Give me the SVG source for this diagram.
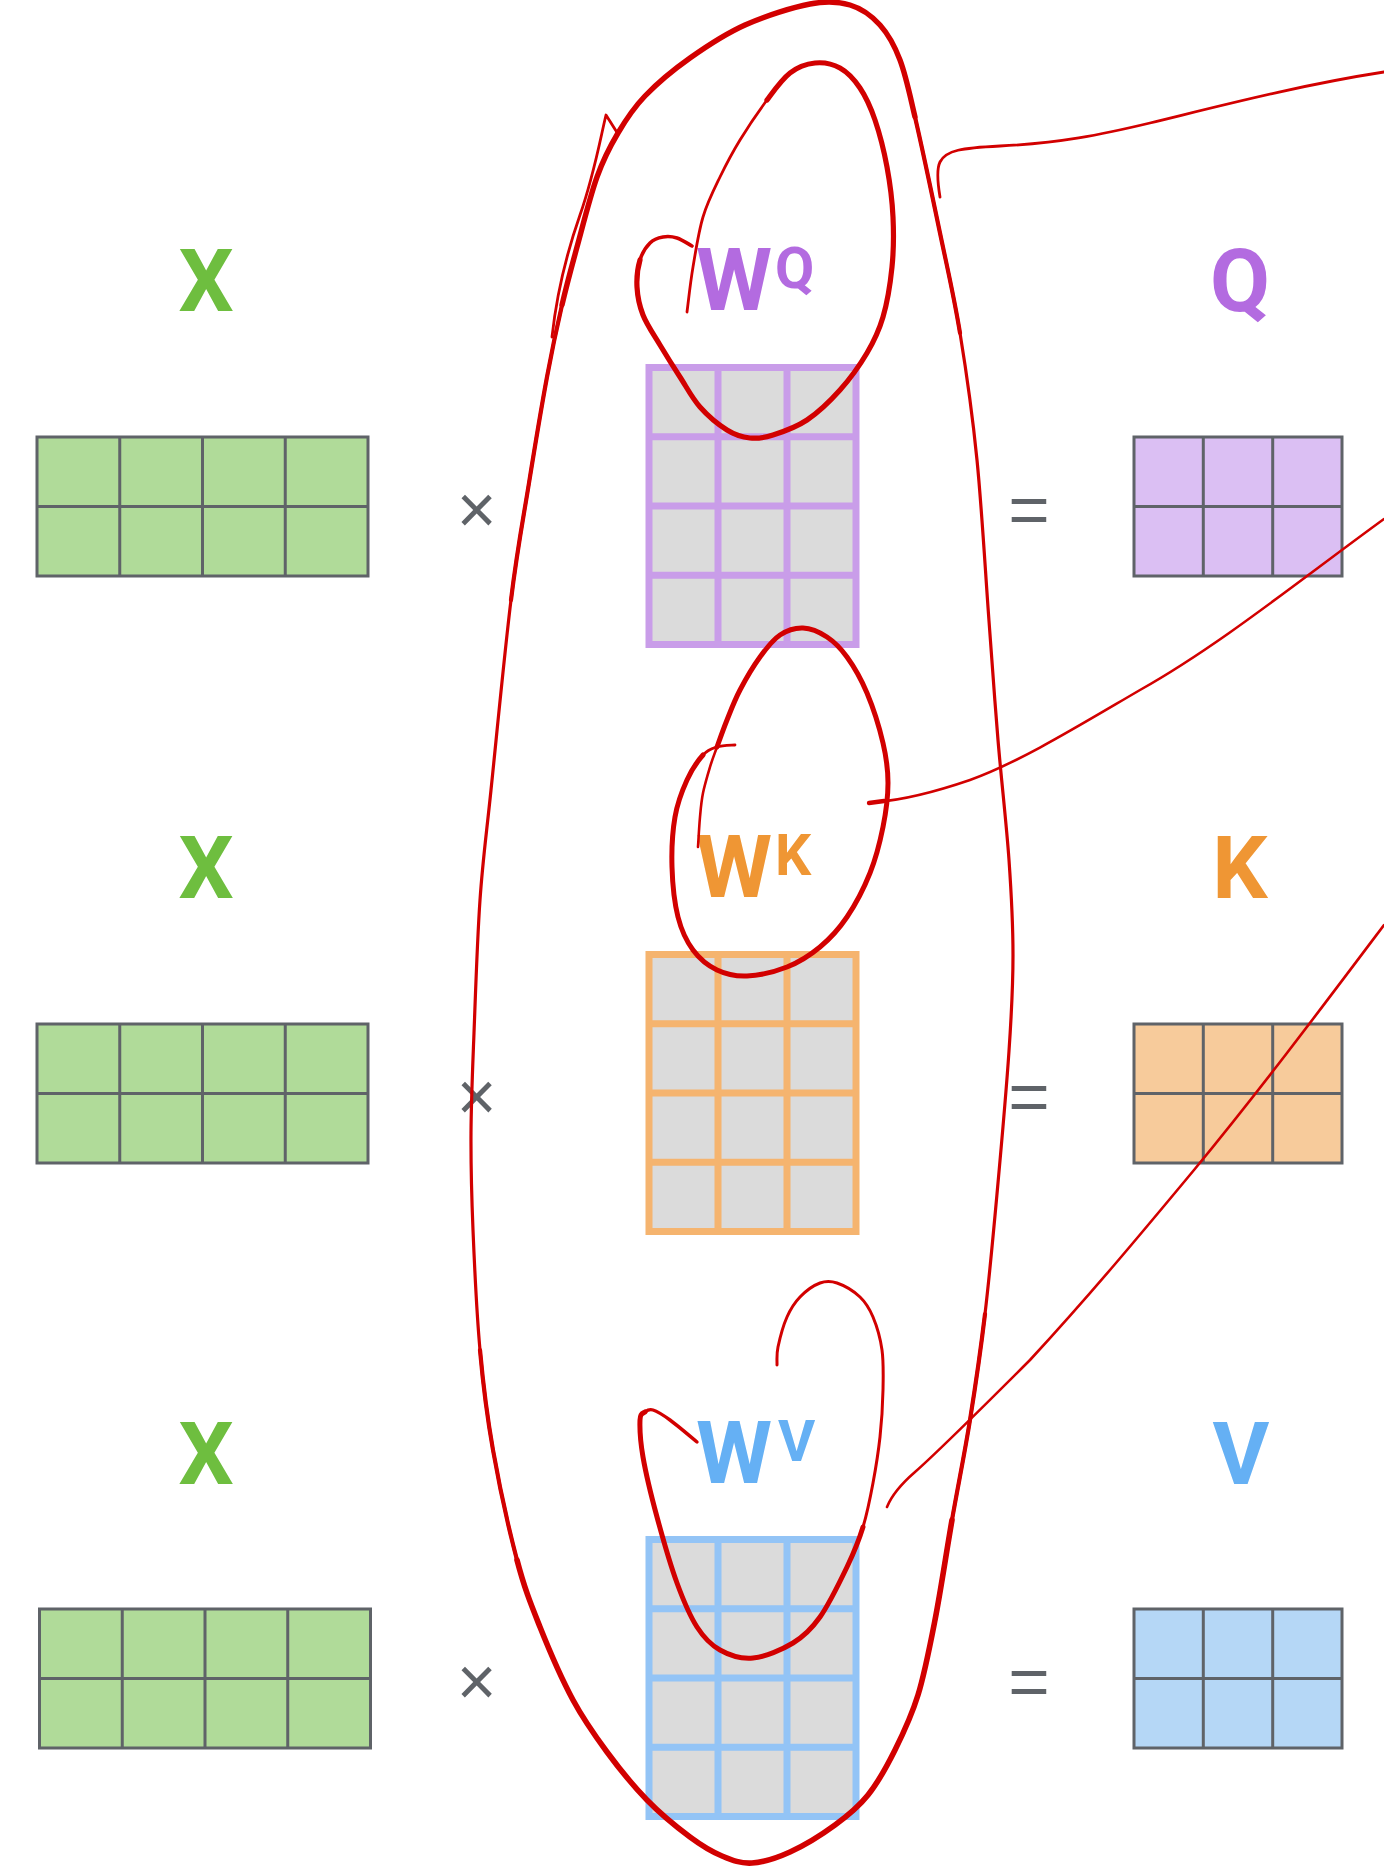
<svg xmlns="http://www.w3.org/2000/svg" width="1384" height="1872" viewBox="0 0 1384 1872">
<style>
.lbl{font-family:Roboto,'Liberation Sans',sans-serif;font-weight:700;font-size:87px;text-anchor:middle}
.wl{font-family:Roboto,'Liberation Sans',sans-serif;font-weight:700;font-size:87px}
.sup{font-size:57px}
.op{font-family:'Liberation Sans',Arial,sans-serif;fill:#5f6368;text-anchor:middle}
.mul{font-size:68px}
.eq{font-size:71px}
.g{fill:#6ebe3f}.p{fill:#b36be0}.o{fill:#ef9634}.b{fill:#65b0f4}
.grid{fill:none;stroke:#5f6368;stroke-width:3}
.xm{fill:#b0db99}.qm{fill:#dbbff3}.km{fill:#f7cb9b}.vm{fill:#b5d7f6}
.w{fill:#dbdbdb;stroke-width:7}
.wl2{fill:none;stroke-width:7}
.wp{stroke:#c99de9}.wo{stroke:#f5b46f}.wb{stroke:#93c4f6}
.red{fill:none;stroke:#d20000;stroke-linecap:round;stroke-linejoin:round}
</style>
<rect width="1384" height="1872" fill="#ffffff"/>

<!-- Row 1: Q -->
<g id="row-q">
  <g id="x1">
    <text class="lbl g" x="206" y="311">X</text>
    <rect class="xm" x="37" y="437" width="331" height="139"/>
    <rect class="grid" x="37" y="437" width="331" height="139"/>
    <path class="grid" d="M119.75,437V576M202.5,437V576M285.25,437V576M37,506.5H368"/>
  </g>
  <g id="mul1"><text class="op mul" x="476.5" y="533">×</text></g>
  <g id="wq">
    <text class="wl p" x="696" y="310">W<tspan class="sup" x="775" y="288">Q</tspan></text>
    <rect class="w wp" x="649" y="367.5" width="207" height="277"/>
    <path class="wl2 wp" d="M718,367.5V644.5M787,367.5V644.5M649,436.75H856M649,506H856M649,575.25H856"/>
  </g>
  <g id="eq1"><text class="op eq" x="1029" y="534">=</text></g>
  <g id="q">
    <text class="lbl p" x="1240" y="311">Q</text>
    <rect class="qm" x="1134" y="437" width="208" height="139"/>
    <rect class="grid" x="1134" y="437" width="208" height="139"/>
    <path class="grid" d="M1203.3,437V576M1272.7,437V576M1134,506.5H1342"/>
  </g>
</g>

<!-- Row 2: K -->
<g id="row-k" transform="translate(0,587)">
  <g id="x2">
    <text class="lbl g" x="206" y="311">X</text>
    <rect class="xm" x="37" y="437" width="331" height="139"/>
    <rect class="grid" x="37" y="437" width="331" height="139"/>
    <path class="grid" d="M119.75,437V576M202.5,437V576M285.25,437V576M37,506.5H368"/>
  </g>
  <g id="mul2"><text class="op mul" x="476.5" y="533">×</text></g>
  <g id="wk">
    <text class="wl o" x="696" y="310">W<tspan class="sup" x="775" y="288">K</tspan></text>
    <rect class="w wo" x="649" y="367.5" width="207" height="277"/>
    <path class="wl2 wo" d="M718,367.5V644.5M787,367.5V644.5M649,436.75H856M649,506H856M649,575.25H856"/>
  </g>
  <g id="eq2"><text class="op eq" x="1029" y="534">=</text></g>
  <g id="k">
    <text class="lbl o" x="1240" y="311">K</text>
    <rect class="km" x="1134" y="437" width="208" height="139"/>
    <rect class="grid" x="1134" y="437" width="208" height="139"/>
    <path class="grid" d="M1203.3,437V576M1272.7,437V576M1134,506.5H1342"/>
  </g>
</g>

<!-- Row 3: V -->
<g id="row-v" transform="translate(0,1172)">
  <g id="x3">
    <text class="lbl g" x="206" y="312">X</text>
    <rect class="xm" x="39.5" y="437" width="331" height="139"/>
    <rect class="grid" x="39.5" y="437" width="331" height="139"/>
    <path class="grid" d="M122.25,437V576M205,437V576M287.75,437V576M39.5,506.5H370.5"/>
  </g>
  <g id="mul3"><text class="op mul" x="476.5" y="533">×</text></g>
  <g id="wv">
    <text class="wl b" x="696" y="311">W<tspan class="sup" x="778" y="289">V</tspan></text>
    <rect class="w wb" x="649" y="367.5" width="207" height="277"/>
    <path class="wl2 wb" d="M718,367.5V644.5M787,367.5V644.5M649,436.75H856M649,506H856M649,575.25H856"/>
  </g>
  <g id="eq3"><text class="op eq" x="1029" y="534">=</text></g>
  <g id="v">
    <text class="lbl b" x="1241" y="312">V</text>
    <rect class="vm" x="1134" y="437" width="208" height="139"/>
    <rect class="grid" x="1134" y="437" width="208" height="139"/>
    <path class="grid" d="M1203.3,437V576M1272.7,437V576M1134,506.5H1342"/>
  </g>
</g>

<!-- Red hand-drawn annotations -->
<g id="connectors">
  <!-- big loop -->
  <path class="red" stroke-width="3.2" d="M618,133 C626,119.5 633,108.5 645,96 S673.3,69.8 690,58 S725,34 745,25 S792.5,7.3 810,4 S838.3,1.5 850,5 S871.7,15.8 880,25 S894.2,44.7 900,60 S908.3,88.2 915,117 S932.5,197 940,233 S953.8,295.2 960,333 S972.2,412 977,460 S985.5,574.3 989,621 S994.7,700.2 998,740 S1006.5,824.2 1009,860 S1013,923.2 1013,955 S1011.7,1011.2 1009,1051 S1001,1150.2 997,1194 S989.5,1276.3 985,1314 S975.5,1385.7 970,1420 S957.8,1486.7 952,1520 S940.7,1590.8 935,1620 S924.7,1673.3 918,1695 S903.3,1733.3 895,1750 S878,1782.5 868,1795 S848,1815.5 835,1825 S803.8,1845.7 790,1852 S763.3,1862.3 752,1863 S732.3,1860.3 722,1856 S702.5,1846.3 690,1837 S660.8,1814.2 647,1800 S619.3,1768.7 607,1752 S584.2,1720.8 573,1700 S549.3,1650.3 540,1627 S524.8,1589.5 517,1560 S499.2,1485 493,1450 S483.3,1386.7 480,1350 S474.5,1266.2 473,1230 S470.8,1165.8 471,1133 S472.5,1071.8 474,1033 S477.2,940.5 480,900 S485.8,840 491,790 S504.7,651.2 511,600 S523,520.2 529,483 S541.5,406.7 547,377 S557,326.7 562,305 S571.2,268.3 577,247 S590.2,196 597,177 S610,146.5 618,133"/>
  <path class="red" stroke-width="4.2" d="M915,117 C921.7,145.8 932.5,197 940,233 S953.8,295.2 960,333"/>
  <path class="red" stroke-width="4.2" d="M511,600 C517.3,548.8 523,520.2 529,483 S541.5,406.7 547,377 S557,326.7 562,305"/>
  <path class="red" stroke-width="4.2" d="M985,1314 C980.5,1351.7 975.5,1385.7 970,1420 S957.8,1486.7 952,1520 S940.7,1590.8 935,1620"/>
  <path class="red" stroke-width="4.2" d="M517,1560 C509.2,1530.5 499.2,1485 493,1450 S483.3,1386.7 480,1350"/>
  <path class="red" stroke-width="5.4" d="M562,305 C567,283.3 571.2,268.3 577,247 S590.2,196 597,177 S610,146.5 618,133 S633,108.5 645,96 S673.3,69.8 690,58 S725,34 745,25 S792.5,7.3 810,4 S838.3,1.5 850,5 S871.7,15.8 880,25 S894.2,44.7 900,60 S908.3,88.2 915,117"/>
  <path class="red" stroke-width="5.6" d="M952,1520 C946.2,1553.3 940.7,1590.8 935,1620 S924.7,1673.3 918,1695 S903.3,1733.3 895,1750 S878,1782.5 868,1795 S848,1815.5 835,1825 S803.8,1845.7 790,1852 S763.3,1862.3 752,1863 S732.3,1860.3 722,1856 S702.5,1846.3 690,1837 S660.8,1814.2 647,1800 S619.3,1768.7 607,1752 S584.2,1720.8 573,1700 S549.3,1650.3 540,1627 S524.8,1589.5 517,1560"/>
  <!-- hook at start of big loop -->
  <path class="red" stroke-width="2.8" d="M552,337 C556,300 566,255 580,215 S600,140 606,115 L618,134"/>

  <!-- loop around W^Q -->
  <path class="red" stroke-width="2.8" d="M687,312 C688,304.5 690.3,282.8 693,267 S698.5,232 703,217 S713.8,189.8 720,177 S732.2,152.8 740,140 S758.7,111.2 767,100"/>
  <path class="red" stroke-width="5.2" d="M767,100 C775.3,88.8 782,79.2 790,73 S806.7,63.8 815,63 S832.5,63.8 840,68 S854.2,79.3 860,88 S870.5,106.8 875,120 S884,150.8 887,167 S892.2,200.3 893,217 S893.7,250.3 892,267 S887.2,302.7 883,317 S874.2,340.8 867,353 S850,378.8 840,390 S818.2,412.5 807,420 S782.5,432 773,435 S757.7,438.8 750,438 S735.3,435.2 727,430 S707.8,415.8 700,407 S686.7,387.3 680,377 S666.2,355.3 660,345 S646.8,324.7 643,315 S637.5,296.2 637,287 S637.8,267.3 640,260"/>
  <path class="red" stroke-width="3.6" d="M640,260 C642.2,252.7 646.2,246.8 650,243 S658.5,237.8 663,237 S672.2,236.5 677,238 S689.5,244.7 692,246"/>
  <path class="red" stroke-width="2.8" d="M940,197 C938,185 936,170 940,162 C946,150 962,148 1000,146 C1060,143 1100,135 1150,123 C1220,106 1300,85 1384,72"/>

  <!-- loop around W^K -->
  <path class="red" stroke-width="2.6" d="M698,847 C698.3,842 699.2,826 700,817 S701.3,801.3 703,793 S707.7,774.7 710,767 S714.2,754.8 717,747"/>
  <path class="red" stroke-width="5" d="M717,747 C719.8,739.2 723.2,729.5 727,720 S734.5,700.5 740,690 S753.3,666.2 760,657 S772.8,639.8 780,635 S795.2,627.7 803,628 S819.7,632.2 827,637 S840.3,647.7 847,657 S861,678.7 867,693 S879.5,728 883,743 S888,769 888,783 S886,812 883,827 S876,858 870,873 S855.3,904.7 847,917 S830,938.7 820,947 S799.2,962.2 787,967 S758.7,975.5 747,976 S726,974.3 717,970 S699.5,958.8 693,950 S681.5,930.8 678,917 S672.5,883.7 672,867 S672.5,831.5 675,817 S682.3,790.3 687,780 S698,760.5 703,755"/>
  <path class="red" stroke-width="2.8" d="M703,755 C708,749.5 711.7,748.7 717,747 S732,745.3 735,745"/>
  <path class="red" stroke-width="2.6" d="M877,802 C900,800 935,792 970,780 C1020,762 1080,725 1140,690 C1220,645 1300,580 1384,519"/>
  <path class="red" stroke-width="4.4" d="M869,803 L884,801"/>

  <!-- loop around W^V -->
  <path class="red" stroke-width="3" d="M777,1365 C777.2,1362 776.3,1355 778,1347 S783.3,1325.3 787,1317 S794.5,1302.7 800,1297 S813.8,1285.3 820,1283 S830.3,1280.7 837,1283 S854,1291.3 860,1297 S869.3,1308.2 873,1317 S880.3,1337.8 882,1350 S883.3,1375.5 883,1390 S881.7,1421.5 880,1437 S875.8,1468 873,1483 S867.3,1513 863,1527"/>
  <path class="red" stroke-width="5" d="M863,1527 C858.7,1541 854.2,1552 847,1567 S829,1604.3 820,1617 S804.2,1636.2 793,1643 S765.2,1656.8 753,1658 S729.3,1655.2 720,1650 S704.2,1638.2 697,1627 S683.7,1601.3 677,1583 S662.7,1538 657,1517 S645.8,1473.2 643,1457 S639.7,1427.5 640,1420 S642.8,1413.7 645,1412"/>
  <path class="red" stroke-width="3.4" d="M645,1412 C647.2,1410.3 648.8,1408.7 653,1410 S662.7,1414.7 670,1420 S692.5,1438.3 697,1442"/>
  <path class="red" stroke-width="2.6" d="M887,1507 C891,1497 900,1485 915,1472 C940,1450 990,1400 1030,1360 C1090,1295 1140,1235 1194,1170 C1260,1090 1320,1010 1384,925"/>
</g>
</svg>
